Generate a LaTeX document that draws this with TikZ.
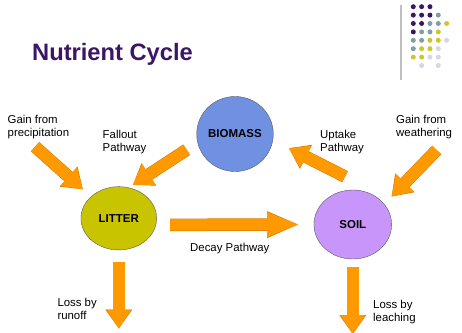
\documentclass[tikz,border=0pt]{standalone}
\usepackage{fontspec}
\setmainfont{Liberation Sans}
\usetikzlibrary{arrows.meta,shapes.geometric}
\definecolor{myPurple}{RGB}{60,22,102}
\definecolor{myTeal}{RGB}{124,160,166}
\definecolor{myYellow}{RGB}{200,200,40}
\definecolor{myLilac}{RGB}{214,214,228}
\definecolor{myOrange}{RGB}{255,153,0}
\definecolor{myOrangeDk}{RGB}{214,122,0}
\definecolor{bioBlue}{RGB}{112,144,226}
\definecolor{litOlive}{RGB}{200,196,0}
\definecolor{soilLilac}{RGB}{200,150,250}
\tikzset{
	pool/.style={
		ellipse,
		draw=black!65,
		inner sep=0pt,
		font=\bfseries\fontsize{11.5}{13}\selectfont
	},
	lbl/.style={anchor=north west, align=left, inner sep=0pt, font=\fontsize{11.4}{13}\selectfont},
	barr/.style={
		line width=11.5pt,
		myOrange,
		-{Triangle[length=#1, width=25pt, line width=0pt]},
		preaction={draw=myOrangeDk, line width=12.5pt, -{Triangle[length=#1, width=27pt, line width=0pt]}}
	},
	barr/.default=19pt
}

\begin{document}
\begin{tikzpicture}[x=1pt, y=-1pt]
	\useasboundingbox (0,0) rectangle (462,332);
	\node[anchor=north west, inner sep=0pt, text=myPurple, font=\bfseries\fontsize{23.7}{28}\selectfont] (title) at (32,43) {Nutrient Cycle};
	\draw[line width=1.5pt, black!25] (401,5) -- (401,80);
	\foreach \c/\r/\col in {0/0/myPurple,1/0/myPurple,2/0/myPurple,
		0/1/myPurple,1/1/myPurple,2/1/myPurple,3/1/myTeal,
		0/2/myPurple,1/2/myPurple,2/2/myTeal,3/2/myTeal,4/2/myYellow,
		0/3/myPurple,1/3/myTeal,2/3/myTeal,3/3/myYellow,
		0/4/myTeal,1/4/myTeal,2/4/myYellow,3/4/myYellow,4/4/myLilac,
		0/5/myTeal,1/5/myYellow,2/5/myYellow,3/5/myLilac,
		0/6/myYellow,1/6/myYellow,2/6/myLilac,3/6/myLilac,
		1/7/myLilac,3/7/myLilac}
		\fill[\col] (413.3+8.33*\c, 6.7+8.4*\r) circle[radius=2.5pt];
	\node[pool, fill=bioBlue, minimum width=76.6pt, minimum height=75pt] (bio) at (235,134) {BIOMASS};
	\node[pool, fill=litOlive, minimum width=75.7pt, minimum height=63.3pt] (lit) at (118.8,218.3) {LITTER};
	\node[pool, fill=soilLilac, minimum width=77.7pt, minimum height=69pt] (soil) at (352.8,224.5) {SOIL};
	\coordinate (prec) at (35,146.7);
	\coordinate (weath) at (436.7,150);
	\coordinate (upt) at (345,176.7);
	\coordinate (runoff) at (118.8,328.5);
	\coordinate (leach) at (352.8,334);
	\draw[barr, shorten >=11pt] (prec) -- (lit.142);
	\draw[barr, shorten <=13pt, shorten >=5pt] (bio.193) -- (lit.72);
	\draw[barr, shorten >=18pt] (upt) -- (bio.-9);
	\draw[barr, shorten >=10.5pt] (weath) -- (soil.33);
	\draw[barr=31pt, shorten <=14pt, shorten >=15.7pt] (lit.-10) -- (soil.180);
	\draw[barr, shorten <=12pt] (lit) -- (runoff);
	\draw[barr, shorten <=8pt] (soil) -- (leach);
	\node[lbl] (gainp) at (7.5,115) {Gain from\\precipitation};
	\node[lbl] (fall) at (102.5,130.5) {Fallout\\Pathway};
	\node[lbl] (uptl) at (320,130.5) {Uptake\\Pathway};
	\node[lbl] (gainw) at (396,115) {Gain from\\weathering};
	\node[lbl] (decay) at (190,243.5) {Decay Pathway};
	\node[lbl] (lossr) at (57.3,298.3) {Loss by\\runoff};
	\node[lbl] (lossl) at (373,300) {Loss by\\leaching};
\end{tikzpicture}
\end{document}
